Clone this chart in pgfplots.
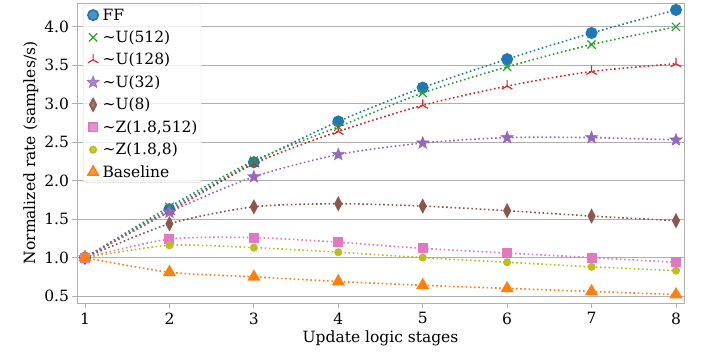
\documentclass[border=0pt]{standalone}
\usepackage{fontspec}
\setmainfont{DejaVu Serif}
\usepackage{pgfplots}
\pgfplotsset{compat=1.18}
\usetikzlibrary{plotmarks}
\definecolor{cFF}{HTML}{1F77B4}
\definecolor{cU512}{HTML}{2CA02C}
\definecolor{cU128}{HTML}{D62728}
\definecolor{cU32}{HTML}{9467BD}
\definecolor{cU8}{HTML}{8C564B}
\definecolor{cZ512}{HTML}{E377C2}
\definecolor{cZ8}{HTML}{BCBD22}
\definecolor{cBase}{HTML}{FF7F0E}
\definecolor{gridc}{HTML}{B0B0B0}
\pgfdeclareplotmark{fstar}{%
  \pgfpathmoveto{\pgfpointpolar{90}{\pgfplotmarksize}}%
  \pgfpathlineto{\pgfpointpolar{126}{0.42\pgfplotmarksize}}%
  \pgfpathlineto{\pgfpointpolar{162}{\pgfplotmarksize}}%
  \pgfpathlineto{\pgfpointpolar{198}{0.42\pgfplotmarksize}}%
  \pgfpathlineto{\pgfpointpolar{234}{\pgfplotmarksize}}%
  \pgfpathlineto{\pgfpointpolar{270}{0.42\pgfplotmarksize}}%
  \pgfpathlineto{\pgfpointpolar{306}{\pgfplotmarksize}}%
  \pgfpathlineto{\pgfpointpolar{342}{0.42\pgfplotmarksize}}%
  \pgfpathlineto{\pgfpointpolar{18}{\pgfplotmarksize}}%
  \pgfpathlineto{\pgfpointpolar{54}{0.42\pgfplotmarksize}}%
  \pgfpathclose\pgfusepathqfillstroke}
\begin{document}
\begin{tikzpicture}
\path[use as bounding box] (-77pt,-59pt) rectangle (627pt,303pt);
\begin{axis}[
  at={(0,0)}, anchor=south west,
  scale only axis, width=607pt, height=300pt,
  xmin=0.905, xmax=8.095, ymin=0.41, ymax=4.31,
  xtick={1,...,8},
  ytick={0.5,1.0,...,4.0},
  yticklabel style={/pgf/number format/.cd, fixed, fixed zerofill, precision=1},
  /pgf/number format/assume math mode=true,
  font=\fontsize{15.5}{18.5}\selectfont,
  ticklabel style={font=\fontsize{15.5}{18.5}\selectfont},
  xticklabel style={yshift=-1.5pt},
  ymajorgrids, grid style={gridc, line width=0.8pt},
  axis line style={gridc, line width=0.8pt},
  tick style={gridc, line width=0.8pt},
  tick align=outside, major tick length=4.5pt,
  xtick pos=bottom, ytick pos=left,
  xlabel={Update logic stages},
  ylabel={Normalized rate (samples/s)},
  xlabel style={yshift=0pt},
  ylabel style={yshift=-1pt},
  every axis plot/.append style={smooth, tension=0.45, line width=1.6pt, dash pattern=on 1.6pt off 2.6pt},
  legend cell align=left,
  legend style={at={(0,1)}, anchor=north west, xshift=6pt, yshift=-2pt,
    draw=gray!30, rounded corners=2pt, fill=white, fill opacity=0.8, text opacity=1,
    font=\fontsize{15.5}{18.5}\selectfont, row sep=6.2pt, inner sep=2pt,
    nodes={inner sep=1.5pt}},
  legend image code/.code={\path (0cm,0cm) (0.5cm,0cm); \draw[only marks] plot coordinates {(0.25cm,0cm)};},
]
\addplot[cFF, mark=*, mark size=5.2pt, mark options={solid, draw=cFF, fill=cFF}] coordinates {
(1,1.0) (2,1.63) (3,2.24) (4,2.77) (5,3.21) (6,3.58) (7,3.92) (8,4.22)};
\addlegendentry{FF}
\addplot[cU512, mark=x, mark size=5.8pt, mark options={solid, line width=1.2pt}] coordinates {
(1,1.0) (2,1.66) (3,2.26) (4,2.70) (5,3.14) (6,3.48) (7,3.77) (8,4.0)};
\addlegendentry{\textasciitilde U(512)}
\addplot[cU128, mark=Mercedes star, mark size=6pt, mark options={solid, line width=1.2pt}] coordinates {
(1,1.0) (2,1.60) (3,2.22) (4,2.64) (5,2.98) (6,3.23) (7,3.42) (8,3.52)};
\addlegendentry{\textasciitilde U(128)}
\addplot[cU32, mark=fstar, mark size=6.5pt, mark options={solid, fill=cU32, draw=cU32, line width=0.5pt}] coordinates {
(1,1.0) (2,1.59) (3,2.05) (4,2.34) (5,2.49) (6,2.56) (7,2.56) (8,2.53)};
\addlegendentry{\textasciitilde U(32)}
\addplot[cU8, mark=diamond*, mark size=6pt, mark options={solid, fill=cU8, draw=cU8, xscale=0.7}] coordinates {
(1,1.0) (2,1.44) (3,1.66) (4,1.70) (5,1.67) (6,1.61) (7,1.54) (8,1.48)};
\addlegendentry{\textasciitilde U(8)}
\addplot[cZ512, mark=square*, mark size=4.2pt, mark options={solid, fill=cZ512, draw=cZ512}] coordinates {
(1,1.0) (2,1.24) (3,1.26) (4,1.20) (5,1.12) (6,1.06) (7,1.0) (8,0.94)};
\addlegendentry{\textasciitilde Z(1.8,512)}
\addplot[cZ8, mark=*, mark size=3.2pt, mark options={solid, fill=cZ8, draw=cZ8}] coordinates {
(1,1.0) (2,1.16) (3,1.13) (4,1.07) (5,1.0) (6,0.94) (7,0.88) (8,0.83)};
\addlegendentry{\textasciitilde Z(1.8,8)}
\addplot[cBase, mark=triangle*, mark size=6pt, mark options={solid, fill=cBase, draw=cBase}] coordinates {
(1,1.0) (2,0.81) (3,0.75) (4,0.69) (5,0.64) (6,0.60) (7,0.56) (8,0.52)};
\addlegendentry{Baseline}
\end{axis}
\end{tikzpicture}
\end{document}
